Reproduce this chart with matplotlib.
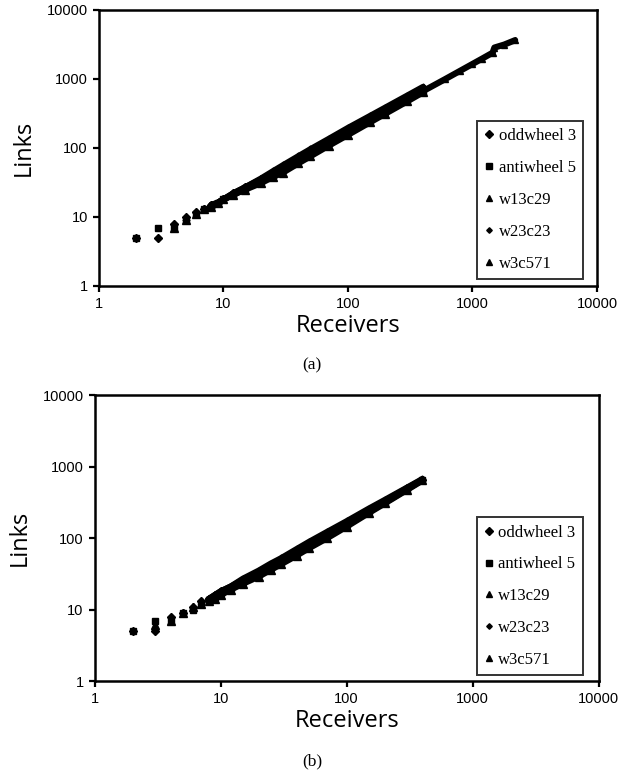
import matplotlib
matplotlib.use("Agg")
import matplotlib.pyplot as plt
from matplotlib.lines import Line2D

# ---- data: (a) top panel ----
labels = ["oddwheel 3", "antiwheel 5", "w13c29", "w23c23", "w3c571"]
markers = ["D", "s", "^", "D", "^"]
msizes = [4.5, 5, 5.5, 3.5, 5]

a_oddwheel_r = [2, 3, 4, 5, 6, 7, 8, 9, 10, 12, 15, 20, 25, 30, 40, 50, 70, 100, 150, 200, 300, 400]
a_oddwheel_l = [5, 5, 8, 10, 12, 13, 15, 16, 18, 22, 27, 35, 44, 52, 70, 88, 122, 175, 260, 345, 520, 690]
a_anti_r = [2, 3, 4, 5, 6, 7, 8, 9, 10, 12, 15, 20, 25, 30, 40, 50, 70, 100, 150, 200, 300, 400]
a_anti_l = [5, 7, 7, 9, 11, 13, 14, 16, 18, 21, 26, 33, 41, 48, 66, 83, 118, 170, 255, 340, 510, 680]
a_w13_r = [4, 5, 6, 7, 8, 9, 10, 12, 15, 20, 25, 30, 40, 50, 70, 100, 150, 200, 300, 400]
a_w13_l = [7, 9, 11, 13, 14, 16, 18, 21, 25, 31, 38, 44, 60, 76, 108, 155, 235, 315, 475, 640]
a_w23_r = [3, 4, 5, 6, 7, 8, 9, 10, 12, 15, 20, 25, 30, 40, 50, 70, 100, 150, 200, 300, 400]
a_w23_l = [5, 8, 9, 12, 13, 14, 16, 18, 22, 27, 36, 46, 56, 76, 96, 135, 195, 290, 385, 575, 765]
a_w3_r = [4, 5, 6, 7, 8, 9, 10, 12, 15, 20, 25, 30, 40, 50, 70, 100, 150, 200, 300, 400,
          600, 800, 1000, 1200, 1450, 1500, 1800, 2200]
a_w3_l = [7, 10, 12, 13, 15, 16, 18, 21, 26, 34, 42, 50, 67, 84, 118, 168, 250, 335, 500, 665,
          990, 1320, 1650, 1980, 2400, 2850, 3150, 3650]

# ---- (b) bottom panel ----
b_oddwheel_r = [2, 3, 4, 5, 6, 7, 8, 9, 10, 12, 15, 20, 25, 30, 40, 50, 70, 100, 150, 200, 300, 400]
b_oddwheel_l = [5, 5, 8, 9, 11, 13, 14, 16, 18, 21, 26, 34, 42, 50, 66, 83, 115, 165, 250, 330, 495, 660]
b_anti_r = [2, 3, 4, 5, 6, 7, 8, 9, 10, 12, 15, 20, 25, 30, 40, 50, 70, 100, 150, 200, 300, 400]
b_anti_l = [5, 7, 7, 9, 10, 12, 13, 15, 17, 20, 25, 32, 40, 47, 63, 79, 110, 158, 240, 320, 485, 650]
b_w13_r = [3, 4, 5, 6, 7, 8, 9, 10, 12, 15, 20, 25, 30, 40, 50, 70, 100, 150, 200, 300, 400]
b_w13_l = [6, 7, 9, 11, 12, 13, 14, 16, 19, 23, 29, 36, 43, 57, 72, 100, 145, 225, 305, 470, 640]
b_w23_r = [3, 4, 5, 6, 7, 8, 9, 10, 12, 15, 20, 25, 30, 40, 50, 70, 100, 150, 200, 300, 400]
b_w23_l = [5, 8, 9, 11, 13, 14, 16, 18, 21, 27, 35, 44, 52, 70, 88, 122, 172, 258, 340, 505, 670]
b_w3_r = [4, 5, 6, 7, 8, 9, 10, 12, 15, 20, 25, 30, 40, 50, 70, 100, 150, 200, 300, 400]
b_w3_l = [7, 9, 11, 13, 14, 15, 17, 20, 24, 31, 38, 45, 60, 75, 105, 150, 232, 312, 478, 655]

panel_a = [(a_oddwheel_r, a_oddwheel_l), (a_anti_r, a_anti_l), (a_w13_r, a_w13_l),
           (a_w23_r, a_w23_l), (a_w3_r, a_w3_l)]
panel_b = [(b_oddwheel_r, b_oddwheel_l), (b_anti_r, b_anti_l), (b_w13_r, b_w13_l),
           (b_w23_r, b_w23_l), (b_w3_r, b_w3_l)]

tick_vals = [1, 10, 100, 1000, 10000]
tick_text = ["1", "10", "100", "1000", "10000"]

SANS = "Liberation Sans"
SERIF = "Liberation Serif"


def draw_panel(ax, series, leg_anchor):
    for (r, l), m, ms in zip(series, markers, msizes):
        # dense part of each series shows up as a solid band
        rr = [x for x in r if x >= 8]
        ll = [y for x, y in zip(r, l) if x >= 8]
        ax.plot(rr, ll, "-", color="k", lw=4.5, solid_capstyle="round")
        ax.plot(r, l, ls="none", marker=m, ms=ms, color="k", mec="k")
    ax.set_xscale("log")
    ax.set_yscale("log")
    ax.set_xlim(1, 10000)
    ax.set_ylim(1, 10000)
    ax.set_xticks(tick_vals)
    ax.set_xticklabels(tick_text, fontfamily=SANS, fontsize=10.5)
    ax.set_yticks(tick_vals)
    ax.set_yticklabels(tick_text, fontfamily=SANS, fontsize=10.5)
    ax.minorticks_off()
    ax.tick_params(direction="out", length=4, width=1.6, pad=4)
    for sp in ax.spines.values():
        sp.set_linewidth(1.8)
    ax.set_xlabel("Receivers", fontfamily="Open Sans", fontsize=17, labelpad=2)
    ax.set_ylabel("Links", fontfamily="Open Sans", fontsize=17, labelpad=8)

    handles = [Line2D([], [], ls="none", marker=m, ms=ms * 0.8, color="k")
               for m, ms in zip(markers, msizes)]
    leg = ax.legend(handles, labels, loc="lower left", bbox_to_anchor=leg_anchor,
                    prop={"family": SERIF, "size": 12}, frameon=True, fancybox=False,
                    edgecolor="k", labelspacing=0.95, handlelength=0.6,
                    handletextpad=0.25, borderpad=0.45, borderaxespad=0)
    leg.get_frame().set_linewidth(1.4)


fig = plt.figure(figsize=(6.32, 7.74), dpi=100)
ax1 = fig.add_axes([0.1566, 0.6305, 0.788, 0.3566])
ax2 = fig.add_axes([0.150, 0.120, 0.797, 0.3695])

draw_panel(ax1, panel_a, (0.759, 0.025))
draw_panel(ax2, panel_b, (0.758, 0.02))

fig.text(0.494, 1 - 365 / 774, "(a)", ha="center", va="center", fontfamily=SERIF, fontsize=12.5)
fig.text(0.494, 1 - 761 / 774, "(b)", ha="center", va="center", fontfamily=SERIF, fontsize=12.5)

fig.savefig("out.png", dpi=100)
